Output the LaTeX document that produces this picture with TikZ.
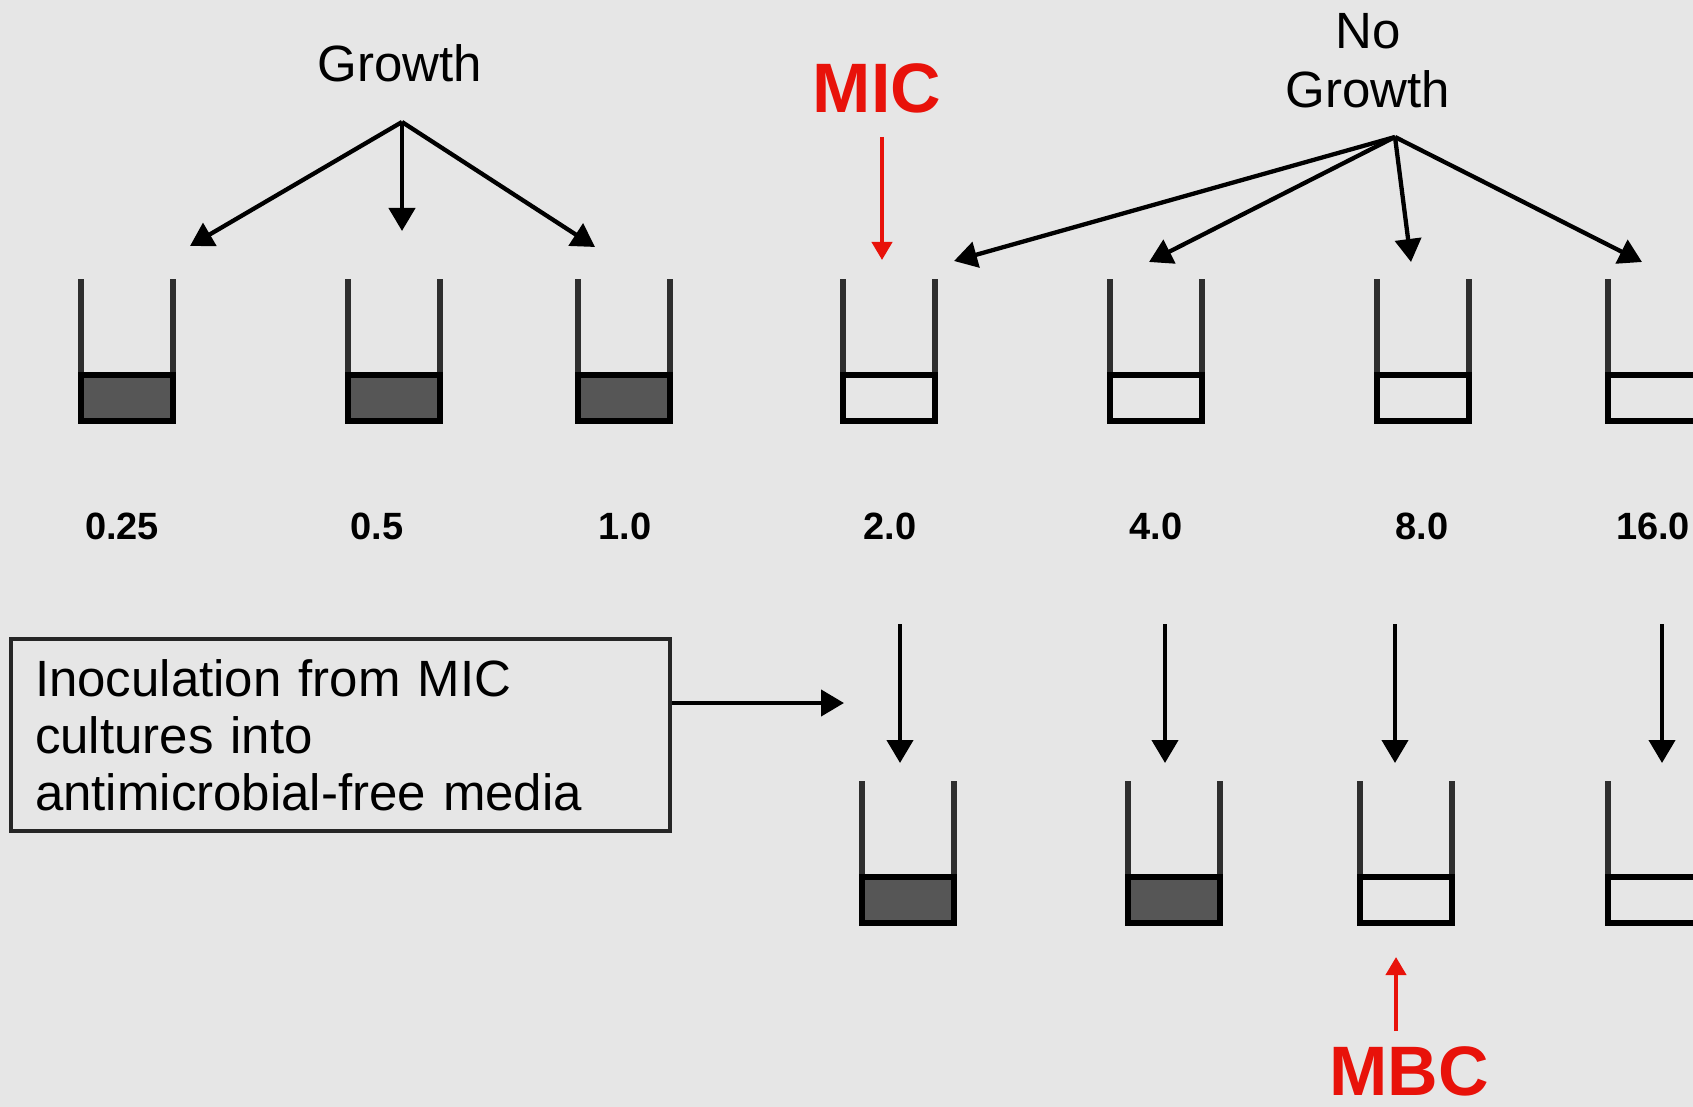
\documentclass[tikz,border=0pt]{standalone}
\usepackage{fontspec}
\setmainfont{Liberation Sans}
\usetikzlibrary{arrows.meta}
\definecolor{bg}{HTML}{E6E6E6}
\definecolor{culture}{HTML}{565656}
\definecolor{micred}{HTML}{E8120A}
\definecolor{wallgray}{HTML}{2E2E2E}

% one culture tube: #1 name of its top-centre coordinate, #2 left x, #3 top y, #4 fill of the medium
\newcommand\culturetube[4]{%
  \coordinate (#1) at (#2+46,#3);
  \draw[tubewall] (#2,#3) -- (#2,#3+96) (#2+92,#3) -- (#2+92,#3+96);
  \draw[medium, fill=#4] (#2,#3+96) rectangle (#2+92,#3+142);
}

\begin{document}
\begin{tikzpicture}[x=1pt, y=-1pt,
  arr/.style={line width=4.3pt, -{Triangle[length=23pt,width=26pt]}},
  redarr/.style={draw=micred, line width=4pt, -{Triangle[length=18pt,width=20pt]}},
  tubewall/.style={line width=5.5pt, draw=wallgray},
  medium/.style={line width=6.5pt, draw=black},
  heading/.style={font=\fontsize{51}{58}\selectfont, align=center, inner sep=0pt},
  conc/.style={font=\fontsize{38}{44}\selectfont\bfseries, inner sep=0pt},
  keyword/.style={font=\fontsize{70}{80}\selectfont\bfseries, text=micred, inner sep=0pt},
  notebox/.style={draw=black!85, line width=4pt, minimum width=659pt, minimum height=192pt,
    text width=611pt, align=left, inner sep=0pt, font=\fontsize{51}{57}\selectfont}]

\fill[bg] (0,0) rectangle (1693,1107);
\useasboundingbox (0,0) rectangle (1693,1107);
\clip (0,0) rectangle (1693,1107);

% headings
\node[heading] (growth) at (400,63) {Growth};
\node[heading] (nogrowth) at (1368,61) {No\\[1pt]Growth};
\node[keyword] (mic) at (877,88) {MIC};
\node[keyword] (mbc) at (1409,1071) {MBC};

% first row of tubes (MIC series)
\culturetube{t1}{81}{279}{culture}
\culturetube{t2}{348}{279}{culture}
\culturetube{t3}{578}{279}{culture}
\culturetube{t4}{843}{279}{bg}
\culturetube{t5}{1110}{279}{bg}
\culturetube{t6}{1377}{279}{bg}
\culturetube{t7}{1608}{279}{bg}

% concentrations
\node[conc] (c1) at (122,526) {0.25};
\node[conc] (c2) at (377,526) {0.5};
\node[conc] (c3) at (625,526) {1.0};
\node[conc] (c4) at (890,526) {2.0};
\node[conc] (c5) at (1156,526) {4.0};
\node[conc] (c6) at (1422,526) {8.0};
\node[conc] (c7) at (1653,526) {16.0};

% second row of tubes (subcultures)
\culturetube{s1}{862}{781}{culture}
\culturetube{s2}{1128}{781}{culture}
\culturetube{s3}{1360}{781}{bg}
\culturetube{s4}{1608}{781}{bg}

% explanatory box
\node[notebox] (inoc) at (340.5,735) {Inoculation from MIC\\cultures into\\antimicrobial-free media};

% fan of arrows from the headings
\coordinate (gapex) at (402,122);
\coordinate (g1) at (190,246);
\coordinate (g2) at (402,231);
\coordinate (g3) at (595,247);
\draw[arr] (gapex) -- (g1);
\draw[arr] (gapex) -- (g2);
\draw[arr] (gapex) -- (g3);

\coordinate (napex) at (1395,137);
\coordinate (n1) at (954,261);
\coordinate (n2) at (1149,262);
\coordinate (n3) at (1411,262);
\coordinate (n4) at (1642,262);
\draw[arr] (napex) -- (n1);
\draw[arr] (napex) -- (n2);
\draw[arr] (napex) -- (n3);
\draw[arr] (napex) -- (n4);

% MIC and MBC markers
\coordinate (micfrom) at (882,137);
\coordinate (micto) at (882,260);
\draw[redarr] (micfrom) -- (micto);
\coordinate (mbcfrom) at (1396,1031);
\coordinate (mbcto) at (1396,957);
\draw[redarr] (mbcfrom) -- (mbcto);

% subculture arrows
\foreach \name/\x in {d1/900, d2/1165, d3/1395, d4/1662} {
  \coordinate (\name a) at (\x,624);
  \coordinate (\name b) at (\x,763);
  \draw[arr] (\name a) -- (\name b);
}
\coordinate (inocto) at (844,703);
\draw[arr] ([yshift=32pt]inoc.east) -- (inocto);

\end{tikzpicture}
\end{document}
